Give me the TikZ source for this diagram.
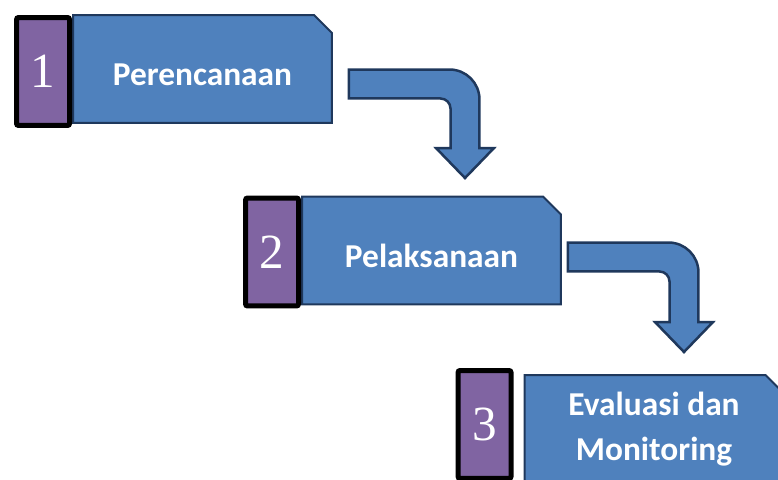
\documentclass[tikz,border=0pt]{standalone}
\usepackage{fontspec}
\setmainfont{Carlito}
\newfontfamily\numfont{Liberation Serif}
\usetikzlibrary{shapes.misc, positioning, calc}
\definecolor{boxfill}{RGB}{79,129,189}
\definecolor{boxline}{RGB}{31,56,92}
\definecolor{tabfill}{RGB}{128,100,162}

% bent arrow from shaft start #1 to tip #2
\newcommand{\steparrow}[2]{%
  \draw[bentarrow] let \p1=(#1), \p2=(#2) in
    (\x1,\y1+0.29cm) -- (\x2-0.31cm,\y1+0.29cm) arc[start angle=90, end angle=0, radius=0.6cm]
    -- (\x2+0.29cm,\y2+0.6cm) -- (\x2+0.58cm,\y2+0.6cm) -- (\x2,\y2)
    -- (\x2-0.58cm,\y2+0.6cm) -- (\x2-0.29cm,\y2+0.6cm)
    -- (\x2-0.29cm,\y1-0.49cm) arc[start angle=0, end angle=90, radius=0.2cm]
    -- (\x1,\y1-0.29cm) -- cycle;}

\begin{document}
\begin{tikzpicture}[
  x=0.02cm, y=0.02cm,
  stepbox/.style={chamfered rectangle, chamfered rectangle corners=north east,
    chamfered rectangle xsep=0.18cm, chamfered rectangle ysep=0.18cm,
    draw=boxline, line width=0.04cm, fill=boxfill, minimum width=5.18cm, minimum height=2.16cm,
    align=center, text=white, font=\fontsize{19}{26}\selectfont\bfseries},
  oneline/.style={text height=0.68cm, text depth=0pt},
  numtab/.style={rectangle, draw=black, line width=0.1cm, rounded corners=0.04cm, fill=tabfill,
    minimum width=1.06cm, minimum height=2.16cm, inner sep=0pt, text=white,
    font=\numfont\fontsize{28}{30}\selectfont},
  bentarrow/.style={draw=boxline, line width=0.05cm, fill=boxfill},
]
\useasboundingbox (0,0) rectangle (778,-480);

\node[stepbox, oneline] (b1) at (202.5,-69) {Perencanaan};
\node[numtab, left=0pt of b1, yshift=-0.05cm] (n1) {1};
\node[stepbox, oneline] (b2) at (431.5,-250.5) {Pelaksanaan};
\node[numtab, left=0pt of b2, yshift=-0.03cm] (n2) {2};
\node[stepbox] (b3) at (654,-429) {Evaluasi dan\\Monitoring};
\node[numtab, left=0.2cm of b3, yshift=0.09cm] (n3) {3};

\steparrow{$(b1.center)+(2.93cm,-0.3cm)$}{$(b2.center)+(0.67cm,1.45cm)$}
\steparrow{$(b2.center)+(2.73cm,-0.13cm)$}{$(b3.center)+(0.6cm,1.54cm)$}
\end{tikzpicture}
\end{document}
